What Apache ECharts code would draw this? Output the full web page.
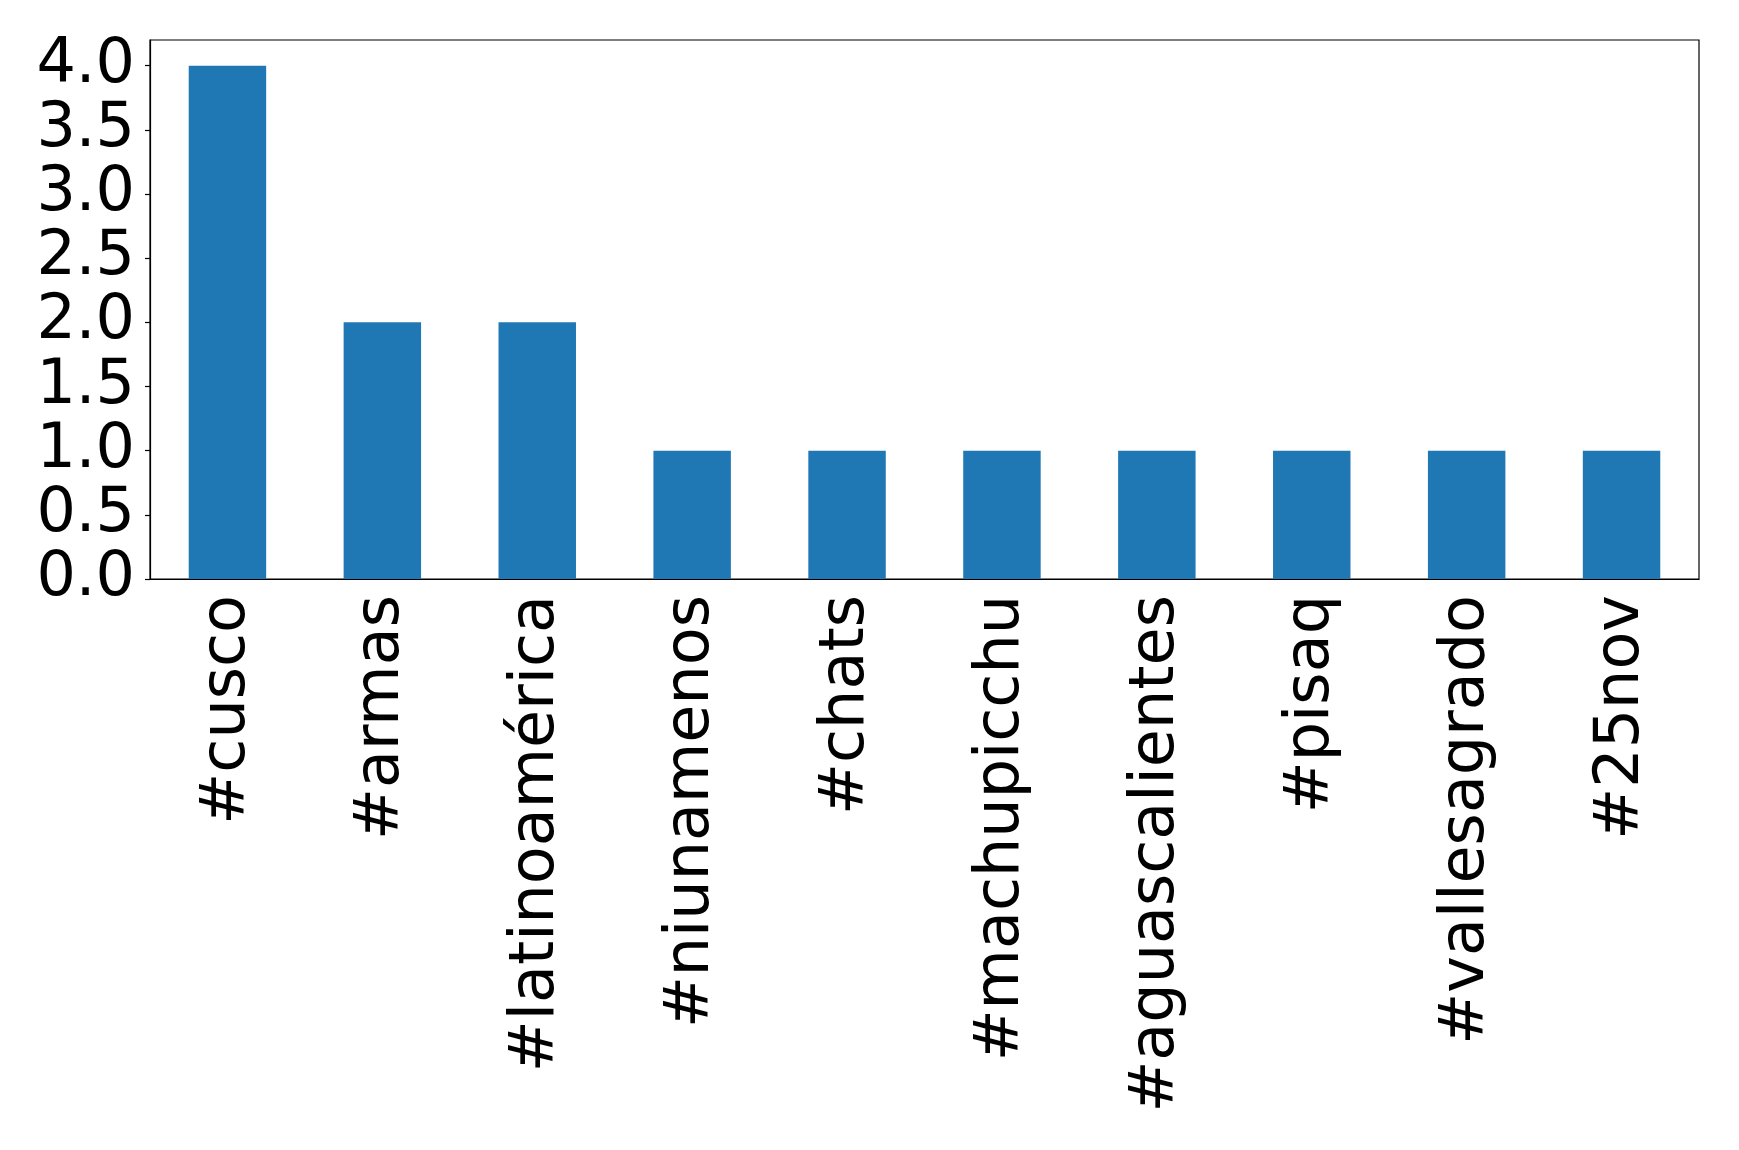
<!DOCTYPE html>
<html>
<head>
<meta charset="utf-8">
<script src="https://cdn.jsdelivr.net/npm/echarts@6/dist/echarts.min.js"></script>
<style>
  html, body { margin: 0; padding: 0; background: #fff; }
  #chart1 { width: 1739px; height: 1150px; }
</style>
</head>
<body>
<div id="chart1"></div>
<script>
const hashtags = ['#cusco', '#armas', '#latinoamérica', '#niunamenos', '#chats',
  '#machupicchu', '#aguascalientes', '#pisaq', '#vallesagrado', '#25nov'];
const counts = [4, 2, 2, 1, 1, 1, 1, 1, 1, 1];
const yTicks = [0, 0.5, 1, 1.5, 2, 2.5, 3, 3.5, 4];

const font = 'DejaVu Sans';

const getOptionChart1 = () => {
  return {
    animation: false,
    backgroundColor: '#fff',
    grid: {
      left: 150, right: 40, top: 40, bottom: 571,
      show: true, borderColor: '#000', borderWidth: 1.2
    },
    xAxis: {
      type: 'category',
      data: hashtags,
      boundaryGap: true,
      axisLine: { lineStyle: { color: '#000', width: 1.2 } },
      axisTick: { alignWithLabel: true, length: 5, lineStyle: { color: '#000', width: 1.2 } },
      axisLabel: {
        rotate: 90, margin: 16, interval: 0,
        fontFamily: font, fontSize: 62, color: '#000'
      },
      splitLine: { show: false }
    },
    yAxis: {
      type: 'value',
      min: 0,
      max: 4.2,
      axisLine: { show: true, lineStyle: { color: '#000', width: 1.2 } },
      axisTick: { show: true, length: 5, customValues: yTicks, lineStyle: { color: '#000', width: 1.2 } },
      axisLabel: {
        customValues: yTicks,
        margin: 15,
        fontFamily: font, fontSize: 62, color: '#000',
        formatter: v => v.toFixed(1)
      },
      splitLine: { show: false }
    },
    series: [{
      type: 'bar',
      data: counts,
      barWidth: '50%',
      itemStyle: { color: '#1f77b4' }
    }]
  };
};

const initChart = () => {
  const chart1 = echarts.init(document.getElementById('chart1'));
  chart1.setOption(getOptionChart1());
};

window.addEventListener('load', function() {
  initChart();
});
</script>
</body>
</html>
